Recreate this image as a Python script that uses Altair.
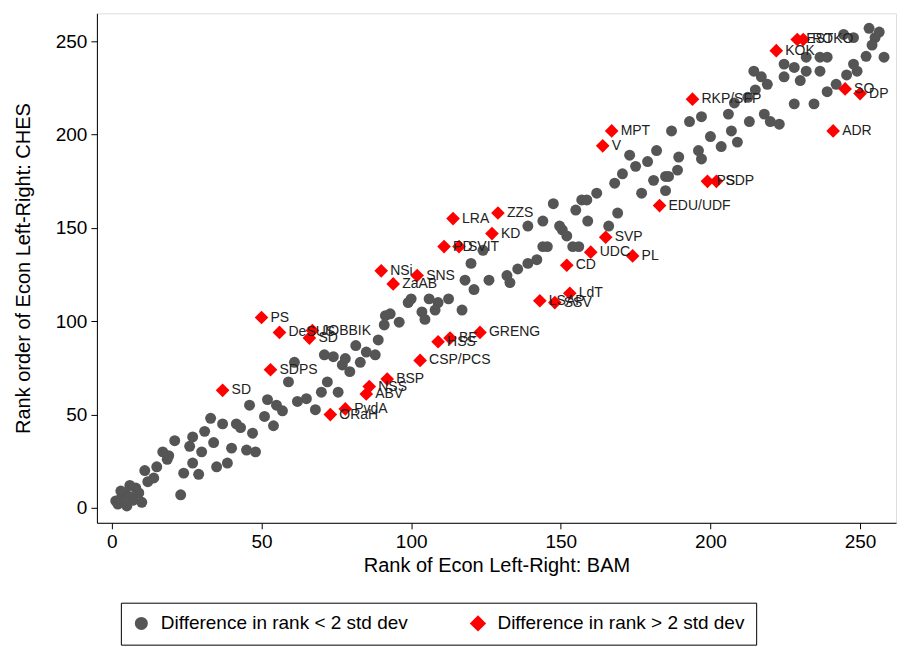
import altair as alt
import pandas as pd

gray_x = [1.3,4.6,8,11,14,17,18.5,21,23,24,27,27,30,31,34,35,33,37,38.6,40,41.6,43,45,47,48,46,51,52,54,55,57,61,59,62,65,68,70,72,71,74,75.6,77,79.5,81.5,83,85,88,89,91,93,
  2,3,5,6,7,9,10,12,3,6,
  91.4,99,103.6,109,112.5,117,118,120,121,124,126,132,135.6,139,142,139,144,144,147.5,150.5,152,155,154,157,159,162,166,169,168,170.6,175,173,177,179,181,182,185,185,
  187,193,197,189.4,196,189,186,197,200,203.6,207,209,206,208,213,212.5,215,217,218,220,223,219,214.5,224.6,228,228,224.6,230,232,234.6,236.6,239,239,242,245.5,247.8,249,252,255,256.4,253,254,258,247.8,244.5,236.6,232,
  78,96,100,106,104.6,108,133,145.5,149.6,156,158.7,19,15,26,29]
gray_y = [3.7,7.4,10.6,20,16,30,26,36,7,18.6,24,38,30,41,35,22,48,45,24,32,45,43,31,40,30,55,49,58,44,55,52,78,67.5,57,58.5,52.6,62,67.5,82,81,62,76.6,73,87,78,83.5,82,90,98,104,
  2,5,1,12,4,8,3,14,9,6,
  103,110,105,110,112,106,122,131,117,138,122,124.5,128,131,133,151,140,153.7,163,149,145.7,159.6,140,165,153.7,168.6,151,158,174,179,183,189,168.6,185.6,175.5,191.5,170,177.6,
  202,207,209.6,188,191.5,181,177.6,187,199,193.6,202,196,211,217,207,220,224,231,211,207,205.6,227,234,237.8,236,216.5,231,229,234,216.5,241.5,241.5,223,227,232,237.8,234,242,252,255,257,248,241.5,252,253.7,234,241.5,
  80,99.5,112,112,101,106,120.7,140,151,140,165,28,22,33,18]

red_x = [37,50,56,66,67,53,73,78,85,86,92,103,109,113,123,90,102,94,114,129,127,111,116,165,160,174,152,153,143,148,167,164,194,222,229,231,245,250,241,199,202,183]
red_y = [63,102,94,91,95,74,50,53,61,65,69,79,89,91,94,127,124.5,120,155,158,147,140,140,145,137,135,130,115,111,110,202,194,219,245,251,251,224.5,222,202,175,175,162]
red_lab = ["SD","PS","DeSUS","SD","JOBBIK","SDPS","ORaH","PvdA","ABV","NSS","BSP","CSP/PCS","HSS","BE","GRENG","NSi","SNS","ZaAB","LRA","ZZS","KD","PD","SVIT","SVP","UDC","PL","CD","LdT","LSAP","SSV","MPT","V","RKP/SFP","KOK","EST","ROKO","SO","DP","ADR","PS","SDP","EDU/UDF"]

g1 = "Difference in rank < 2 std dev"
g2 = "Difference in rank > 2 std dev"
df = pd.concat([
    pd.DataFrame({"x": gray_x, "y": gray_y, "grp": g1, "lab": ""}),
    pd.DataFrame({"x": red_x, "y": red_y, "grp": g2, "lab": red_lab}),
])
red = df[df.grp == g2]

xs = alt.Scale(domain=[-5, 262], nice=False, zero=False)
ys = alt.Scale(domain=[-8, 265], nice=False, zero=False)
ax = dict(values=[0,50,100,150,200,250], grid=False, tickSize=6, labelFontSize=19, titleFontSize=20,
          titleFontWeight="normal", domainColor="black", tickColor="black", labelColor="black",
          titleColor="black", labelPadding=4)
leg = dict(title=None, orient="none", direction="horizontal", legendX=24, legendY=590,
           labelFontSize=19, labelColor="black", strokeColor="black", padding=11,
           symbolSize=170, columnPadding=60, labelLimit=400, symbolStrokeWidth=0, labelOffset=10)
diamond = "M0,-1.25L1.25,0L0,1.25L-1.25,0Z"

pts = alt.Chart(df).mark_point(filled=True, opacity=1, strokeWidth=0, size=120).encode(
    x=alt.X("x:Q", scale=xs, title="Rank of Econ Left-Right: BAM", axis=alt.Axis(**ax, titlePadding=4)),
    y=alt.Y("y:Q", scale=ys, title="Rank order of Econ Left-Right: CHES", axis=alt.Axis(**ax, titlePadding=22)),
    color=alt.Color("grp:N", scale=alt.Scale(domain=[g1, g2], range=["#555555", "#ff0000"]), legend=alt.Legend(**leg)),
    shape=alt.Shape("grp:N", scale=alt.Scale(domain=[g1, g2], range=["circle", diamond]), legend=alt.Legend(**leg)),
)

txt = alt.Chart(red).mark_text(align="left", dx=9, fontSize=14, color="#222222", font="Liberation Sans").encode(
    x=alt.X("x:Q", scale=xs), y=alt.Y("y:Q", scale=ys), text="lab:N")

chart = alt.layer(pts, txt).properties(width=800, height=510).configure_view(
    stroke="black", strokeWidth=1
).configure(font="Liberation Sans")

chart.save("out.html", embed_options={"renderer": "svg", "actions": False})
